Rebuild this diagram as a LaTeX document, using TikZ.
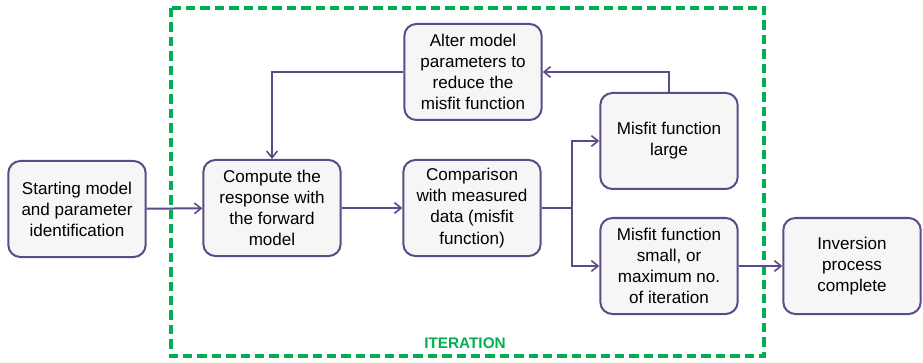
\documentclass[tikz,border=0pt]{standalone}
\usepackage{fontspec}
\setmainfont{Liberation Sans}
\usetikzlibrary{arrows.meta,positioning}
\definecolor{edge}{HTML}{5E4A86}
\definecolor{boxfill}{HTML}{F6F6F6}
\definecolor{iter}{HTML}{00B050}
\tikzset{
  >={Straight Barb[length=5pt,width=8pt,line width=1.2pt]},
  box/.style={draw=edge,fill=boxfill,line width=1.5pt,rounded corners=9pt,align=center,minimum width=103pt,minimum height=72pt,inner sep=3pt,font=\fontsize{12.8}{15.8}\selectfont},
  flow/.style={->,line width=1.5pt,draw=edge},
  frame/.style={draw=iter,line width=2.3pt,dash pattern=on 7pt off 3.8pt},
  note/.style={font=\bfseries\fontsize{11.5}{13}\selectfont,text=iter}
}
\begin{document}
\begin{tikzpicture}[x=0.75pt,y=-0.75pt]
  \useasboundingbox (0,0) rectangle (923,363);
  \draw[frame] (171,8) rectangle (764,356);
  \node[note] (iterlabel) at (465,343) {ITERATION};
  \node[box] (start) at (77,209) {Starting model\\and parameter\\identification};
  \node[box] (compute) at (272,208) {Compute the\\response with\\the forward\\model};
  \node[box] (compare) at (472,208) {Comparison\\with measured\\data (misfit\\function)};
  \node[box] (alter) at (473,72) {Alter model\\parameters to\\reduce the\\misfit function};
  \node[box] (large) at (669,141) {Misfit function\\large};
  \node[box] (small) at (669,266) {Misfit function\\small, or\\maximum no.\\of iteration};
  \node[box] (done) at (852,266) {Inversion\\process\\complete};
  \coordinate (split) at (572,208);
  \draw[flow] (start) -- (compute);
  \draw[flow] (compute) -- (compare);
  \draw[line width=1.5pt,draw=edge] (compare.east) -- (split);
  \draw[flow] (split) |- (large.west);
  \draw[flow] (split) |- (small.west);
  \draw[flow] (large.north) |- (alter.east);
  \draw[flow] (alter.west) -| (compute.north);
  \draw[flow] (small) -- (done);
\end{tikzpicture}
\end{document}
